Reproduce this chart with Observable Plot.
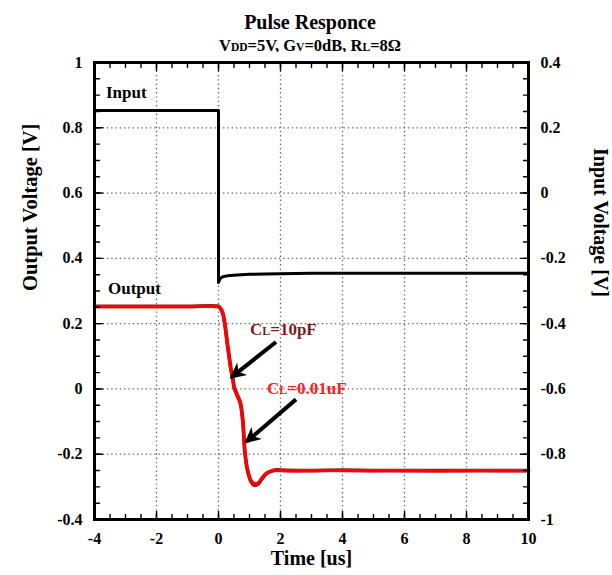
<!DOCTYPE html>
<html>
<head>
<meta charset="utf-8">
<script src="https://cdn.jsdelivr.net/npm/d3@7"></script>
<script src="https://cdn.jsdelivr.net/npm/@observablehq/plot@0.6"></script>
<style>
  body { margin: 0; background: #fff; font-family: "Liberation Serif", "Times New Roman", serif; }
  #wrap { position: relative; width: 612px; height: 575px; overflow: hidden; }
  #title { position: absolute; left: 0; width: 620px; top: 9px; text-align: center; font-weight: bold; font-size: 20px; line-height: 26px; }
  #subtitle { position: absolute; left: 0; width: 620px; top: 36px; text-align: center; font-weight: bold; font-size: 16.5px; line-height: 20px; }
  .s { font-size: 70%; }
  #chart { position: absolute; left: 0; top: 52px; }
</style>
</head>
<body>
<div id="wrap">
  <div id="title"></div>
  <div id="subtitle"></div>
  <div id="chart"></div>
</div>
<script>
// ---- text ----
const titleText = "Pulse Responce";
const subtitleParts = [["V", false], ["DD", true], ["=5V, G", false], ["V", true], ["=0dB, R", false], ["L", true], ["=8Ω", false]];
const xTitle = "Time [us]";
const yLeftTitle = "Output Voltage [V]";
const yRightTitle = "Input Voltage [V]";
const seriesLabels = ["Input", "Output"];
const capLabels = ["C{L}=10pF", "C{L}=0.01uF"];

// ---- ticks ----
const timeTicks = [-4, -2, 0, 2, 4, 6, 8, 10];
const outputTicks = [-0.4, -0.2, 0, 0.2, 0.4, 0.6, 0.8, 1];
const inputTicks = [-1, -0.8, -0.6, -0.4, -0.2, 0, 0.2, 0.4];
const inputOffset = 0.6; // input axis value + 0.6 = output axis value

// ---- data ----
const inputTime = [-4, -3, -2, -1, 0, 0, 0.05, 0.15, 0.3, 0.6, 1, 1.5, 2, 3, 4, 5, 6, 7, 8, 9, 10];
const inputVolt = [0.253, 0.253, 0.253, 0.253, 0.253, -0.274, -0.262, -0.256, -0.253, -0.251, -0.249, -0.248, -0.247, -0.246, -0.246, -0.246, -0.246, -0.246, -0.246, -0.246, -0.246];

const outTime = [-4, -3, -2, -1, 0, 0.03, 0.135, 0.297, 0.403, 0.458, 0.51, 0.6, 0.703, 0.781, 0.855, 0.942, 1.05, 1.155, 1.27, 1.426, 1.55, 1.694, 1.85, 2.016, 2.5, 3, 4, 5, 6, 7, 8, 9, 10];
const out10pF = [0.253, 0.253, 0.253, 0.253, 0.253, 0.251, 0.233, 0.132, 0.06, 0.033, 0.004, -0.018, -0.042, -0.094, -0.196, -0.252, -0.284, -0.295, -0.292, -0.272, -0.259, -0.252, -0.248, -0.249, -0.25, -0.25, -0.249, -0.25, -0.25, -0.25, -0.25, -0.25, -0.25];
const out001uF = [0.252, 0.252, 0.252, 0.252, 0.252, 0.25, 0.231, 0.128, 0.057, 0.031, 0.002, -0.02, -0.044, -0.096, -0.198, -0.25, -0.28, -0.29, -0.289, -0.27, -0.258, -0.252, -0.249, -0.25, -0.251, -0.25, -0.25, -0.25, -0.25, -0.251, -0.25, -0.25, -0.25];

// ---- header ----
document.getElementById("title").textContent = titleText;
document.getElementById("subtitle").innerHTML = subtitleParts
  .map(([s, sub]) => sub ? `<span class="s">${s}</span>` : s).join("");

const inputData = inputTime.map((t, i) => ({t, v: inputVolt[i] + inputOffset}));
const d10pF = outTime.map((t, i) => ({t, v: out10pF[i]}));
const d001uF = outTime.map((t, i) => ({t, v: out001uF[i]}));

const minorX = d3.range(-4, 10.001, 0.5);
const minorY = d3.range(-0.4, 1.0001, 0.05);

const tickShape = {draw(ctx, l) { ctx.moveTo(0, 0); ctx.lineTo(0, -l); }};
const edgeTicks = (values, ch, anchor, rotate, length) =>
  Plot.vector(values, {[ch]: d => d, frameAnchor: anchor, length, rotate, anchor: "start",
    shape: tickShape, stroke: "black", strokeWidth: 1.4});

const gridStyle = {stroke: "#666", strokeOpacity: 1, strokeWidth: 1.3, strokeDasharray: "1.4,2.9"};

const callouts = [
  {x1: 1.855, y1: 0.1437, x2: 0.42, y2: 0.036},
  {x1: 2.5, y1: -0.032, x2: 0.9, y2: -0.162}
];

const chart = Plot.plot({
  width: 612,
  height: 523,
  marginTop: 10,
  marginBottom: 56,
  marginLeft: 94,
  marginRight: 84,
  x: {domain: [-4, 10], axis: null},
  y: {domain: [-0.4, 1], axis: null},
  style: {fontFamily: "'Liberation Serif', 'Times New Roman', serif", fontWeight: "bold", fontSize: "16px", color: "black", background: "white", overflow: "visible"},
  marks: [
    Plot.gridX(timeTicks.slice(1, -1), gridStyle),
    Plot.gridY(outputTicks.slice(1, -1), gridStyle),
    Plot.line(d10pF, {x: "t", y: "v", stroke: "#8b1a1a", strokeWidth: 3.8, curve: "catmull-rom"}),
    Plot.line(d001uF, {x: "t", y: "v", stroke: "#ff0000", strokeWidth: 3.2, curve: "catmull-rom"}),
    Plot.line(inputData, {x: "t", y: "v", stroke: "black", strokeWidth: 3}),
    Plot.frame({stroke: "black", strokeWidth: 3}),
    edgeTicks(minorX, "x", "bottom", 0, 5),
    edgeTicks(minorX, "x", "top", 180, 5),
    edgeTicks(timeTicks, "x", "bottom", 0, 8),
    edgeTicks(timeTicks, "x", "top", 180, 8),
    edgeTicks(minorY, "y", "left", 90, 5),
    edgeTicks(minorY, "y", "right", -90, 5),
    edgeTicks(outputTicks, "y", "left", 90, 8),
    edgeTicks(outputTicks, "y", "right", -90, 8),
    Plot.axisX(timeTicks, {anchor: "bottom", tickSize: 0, tickPadding: 13, tickFormat: d => String(d), label: null, fontSize: 16}),
    Plot.axisY(outputTicks, {anchor: "left", tickSize: 0, tickPadding: 12, tickFormat: d => String(d), label: null, fontSize: 16}),
    Plot.axisY(inputTicks.map(v => v + inputOffset), {anchor: "right", tickSize: 0, tickPadding: 12,
      tickFormat: d => String(+(d - inputOffset).toFixed(2)), label: null, fontSize: 16}),
    Plot.text([xTitle], {text: d => d, frameAnchor: "bottom", dy: 45, fontSize: 20}),
    Plot.text([yLeftTitle], {text: d => d, frameAnchor: "left", dx: -64, rotate: -90, fontSize: 20.5}),
    Plot.text([yRightTitle], {text: d => d, frameAnchor: "right", dx: 72, dy: 6, rotate: 90, fontSize: 20}),
    Plot.text([seriesLabels[0]], {text: d => d, x: -3.63, y: 0.909, textAnchor: "start", fontSize: 17}),
    Plot.text([seriesLabels[1]], {text: d => d, x: -3.565, y: 0.308, textAnchor: "start", fontSize: 17}),
    Plot.text([capLabels[0]], {text: d => d, x: 1.016, y: 0.183, textAnchor: "start", fontSize: 17, fill: "#7f1d1d"}),
    Plot.text([capLabels[1]], {text: d => d, x: 1.565, y: 0.0, textAnchor: "start", fontSize: 17, fill: "#ff1a1a"}),
    Plot.link(callouts, {x1: "x1", y1: "y1", x2: "x2", y2: "y2", stroke: "black", strokeWidth: 4})
  ]
});

// subscripts in annotation labels
chart.querySelectorAll("text").forEach(t => {
  if (t.textContent.includes("{")) {
    t.innerHTML = t.textContent.replace(/\{(.+?)\}/g, '<tspan font-size="70%">$1</tspan>');
  }
});

// filled barbed arrowheads on the callout links
const ns = "http://www.w3.org/2000/svg";
const defs = document.createElementNS(ns, "defs");
const marker = document.createElementNS(ns, "marker");
marker.setAttribute("id", "barb");
marker.setAttribute("viewBox", "0 0 10 10");
marker.setAttribute("refX", "8.5");
marker.setAttribute("refY", "5");
marker.setAttribute("markerWidth", "4.4");
marker.setAttribute("markerHeight", "4");
marker.setAttribute("markerUnits", "strokeWidth");
marker.setAttribute("orient", "auto");
const head = document.createElementNS(ns, "path");
head.setAttribute("d", "M0,0 L10,5 L0,10 L3,5 Z");
head.setAttribute("fill", "black");
marker.appendChild(head);
defs.appendChild(marker);
chart.insertBefore(defs, chart.firstChild);
chart.querySelectorAll('g[aria-label="link"] path').forEach(p => p.setAttribute("marker-end", "url(#barb)"));

document.getElementById("chart").appendChild(chart);
</script>
</body>
</html>
